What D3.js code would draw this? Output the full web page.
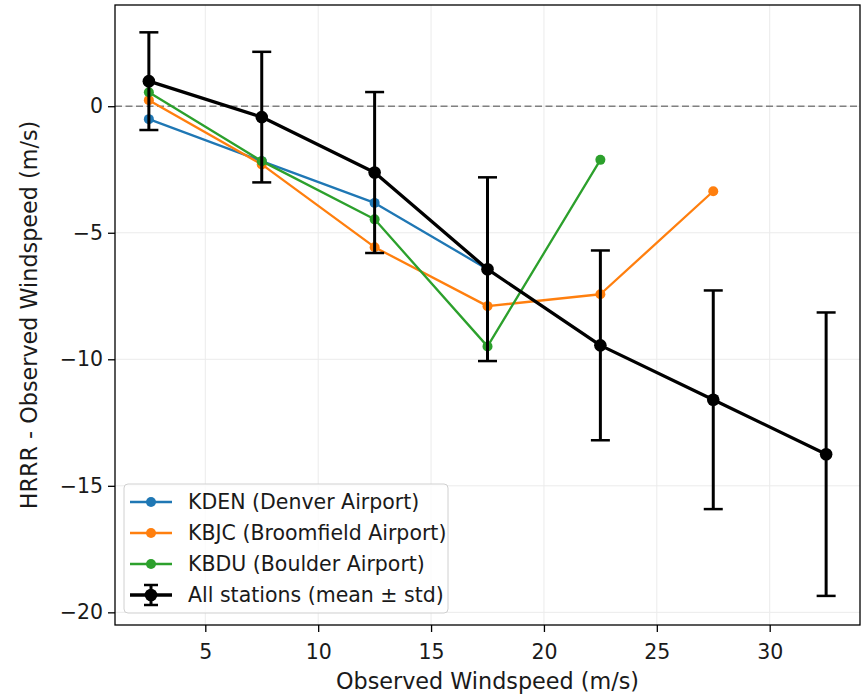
<!DOCTYPE html>
<html><head><meta charset="utf-8">
<script src="https://cdn.jsdelivr.net/npm/d3@7"></script>
<style>
html,body{margin:0;padding:0;background:#fff;}
text{font-family:"DejaVu Sans",sans-serif;fill:#1a1a1a;}
</style></head>
<body>
<svg id="chart" width="862" height="695"></svg>
<script>
// ---- data ----
const bins = [2.5, 7.5, 12.5, 17.5, 22.5, 27.5, 32.5];
const kdenX = [2.5, 7.5, 12.5, 17.5];
const kdenY = [-0.51, -2.17, -3.82, -6.44];
const kbjcX = [2.5, 7.5, 12.5, 17.5, 22.5, 27.5];
const kbjcY = [0.24, -2.3, -5.57, -7.9, -7.43, -3.36];
const kbduX = [2.5, 7.5, 12.5, 17.5, 22.5];
const kbduY = [0.55, -2.17, -4.47, -9.49, -2.12];
const allMean = [0.99, -0.43, -2.62, -6.44, -9.45, -11.6, -13.75];
const allStd = [1.93, 2.58, 3.18, 3.63, 3.75, 4.32, 5.6];
const xTicks = [5, 10, 15, 20, 25, 30];
const yTicks = [0, -5, -10, -15, -20];
const seriesNames = ["KDEN (Denver Airport)", "KBJC (Broomfield Airport)", "KBDU (Boulder Airport)", "All stations (mean \u00b1 std)"];
const seriesColors = ["#1f77b4", "#ff7f0e", "#2ca02c", "#000000"];
const xLabel = "Observed Windspeed (m/s)";
const yLabel = "HRRR - Observed Windspeed (m/s)";

// ---- layout ----
const L = 115, R = 860, T = 5, B = 625;
const svg = d3.select("#chart");
const x = d3.scaleLinear().domain([1, 34]).range([L, R]);
const y = d3.scaleLinear().domain([-20.5, 4.0]).range([B, T]);
const fmt = d3.format("d");

// grid
const grid = svg.append("g");
grid.selectAll("line.gx").data(xTicks).join("line")
  .attr("x1", d => x(d)).attr("x2", d => x(d)).attr("y1", T).attr("y2", B)
  .attr("stroke", "#ebebeb").attr("stroke-width", 1);
grid.selectAll("line.gy").data(yTicks).join("line")
  .attr("y1", d => y(d)).attr("y2", d => y(d)).attr("x1", L).attr("x2", R)
  .attr("stroke", "#ebebeb").attr("stroke-width", 1);

// zero line
svg.append("line").attr("x1", L).attr("x2", R).attr("y1", y(0)).attr("y2", y(0))
  .attr("stroke", "#808080").attr("stroke-width", 1.5).attr("stroke-dasharray", "7,3.5");

// station series
const stations = [[kdenX, kdenY], [kbjcX, kbjcY], [kbduX, kbduY]];
const line = d3.line().x(d => x(d[0])).y(d => y(d[1]));
stations.forEach((s, i) => {
  const pts = s[0].map((v, j) => [v, s[1][j]]);
  const g = svg.append("g");
  g.append("path").attr("d", line(pts)).attr("fill", "none")
    .attr("stroke", seriesColors[i]).attr("stroke-width", 2.3).attr("stroke-linejoin", "round");
  g.selectAll("circle").data(pts).join("circle")
    .attr("cx", d => x(d[0])).attr("cy", d => y(d[1])).attr("r", 5).attr("fill", seriesColors[i]);
});

// all-stations with error bars
const allPts = bins.map((v, j) => [v, allMean[j], allStd[j]]);
const ga = svg.append("g");
ga.selectAll("line.eb").data(allPts).join("line")
  .attr("x1", d => x(d[0])).attr("x2", d => x(d[0]))
  .attr("y1", d => y(d[1] + d[2])).attr("y2", d => y(d[1] - d[2]))
  .attr("stroke", "#000").attr("stroke-width", 3);
ga.selectAll("line.ct").data(allPts).join("line")
  .attr("x1", d => x(d[0]) - 9.5).attr("x2", d => x(d[0]) + 9.5)
  .attr("y1", d => y(d[1] + d[2])).attr("y2", d => y(d[1] + d[2]))
  .attr("stroke", "#000").attr("stroke-width", 2.5);
ga.selectAll("line.cb").data(allPts).join("line")
  .attr("x1", d => x(d[0]) - 9.5).attr("x2", d => x(d[0]) + 9.5)
  .attr("y1", d => y(d[1] - d[2])).attr("y2", d => y(d[1] - d[2]))
  .attr("stroke", "#000").attr("stroke-width", 2.5);
ga.append("path").attr("d", line(allPts)).attr("fill", "none")
  .attr("stroke", "#000").attr("stroke-width", 3.3).attr("stroke-linejoin", "round");
ga.selectAll("circle").data(allPts).join("circle")
  .attr("cx", d => x(d[0])).attr("cy", d => y(d[1])).attr("r", 6.3).attr("fill", "#000");

// frame
svg.append("rect").attr("x", L).attr("y", T).attr("width", R - L).attr("height", B - T)
  .attr("fill", "none").attr("stroke", "#000").attr("stroke-width", 1.3);

// axes
const xAxis = svg.append("g").attr("transform", `translate(0,${B})`)
  .call(d3.axisBottom(x).tickValues(xTicks).tickFormat(fmt).tickSize(7).tickPadding(12));
const yAxis = svg.append("g").attr("transform", `translate(${L},0)`)
  .call(d3.axisLeft(y).tickValues(yTicks).tickFormat(fmt).tickSize(7).tickPadding(5));
[xAxis, yAxis].forEach(a => {
  a.select(".domain").remove();
  a.selectAll(".tick line").attr("stroke", "#000").attr("stroke-width", 1.3);
  a.selectAll(".tick text").attr("font-size", 20.5).attr("fill", "#1a1a1a")
    .attr("font-family", "DejaVu Sans");
});

// axis labels
svg.append("text").attr("x", (L + R) / 2).attr("y", 689).attr("text-anchor", "middle")
  .attr("font-size", 22.3).text(xLabel);
svg.append("text").attr("transform", `translate(37,${(T + B) / 2}) rotate(-90)`)
  .attr("text-anchor", "middle").attr("font-size", 22.3).text(yLabel);

// legend
const lg = svg.append("g");
lg.append("rect").attr("x", 124).attr("y", 484).attr("width", 324).attr("height", 129)
  .attr("rx", 4).attr("fill", "#fff").attr("fill-opacity", 0.8)
  .attr("stroke", "#d0d0d0").attr("stroke-width", 1);
const rowY = [502, 533, 564, 595];
seriesNames.forEach((name, i) => {
  const ry = rowY[i];
  const c = seriesColors[i];
  if (i < 3) {
    lg.append("line").attr("x1", 130).attr("x2", 172).attr("y1", ry).attr("y2", ry)
      .attr("stroke", c).attr("stroke-width", 2.3);
    lg.append("circle").attr("cx", 151).attr("cy", ry).attr("r", 5).attr("fill", c);
  } else {
    lg.append("line").attr("x1", 130).attr("x2", 172).attr("y1", ry).attr("y2", ry)
      .attr("stroke", c).attr("stroke-width", 3.3);
    lg.append("line").attr("x1", 151).attr("x2", 151).attr("y1", ry - 10).attr("y2", ry + 10)
      .attr("stroke", c).attr("stroke-width", 3);
    lg.append("line").attr("x1", 144).attr("x2", 158).attr("y1", ry - 10).attr("y2", ry - 10)
      .attr("stroke", c).attr("stroke-width", 2.5);
    lg.append("line").attr("x1", 144).attr("x2", 158).attr("y1", ry + 10).attr("y2", ry + 10)
      .attr("stroke", c).attr("stroke-width", 2.5);
    lg.append("circle").attr("cx", 151).attr("cy", ry).attr("r", 6.3).attr("fill", c);
  }
  lg.append("text").attr("x", 188).attr("y", ry).attr("dy", "0.36em")
    .attr("font-size", 20.5).text(name);
});
</script>
</body></html>
